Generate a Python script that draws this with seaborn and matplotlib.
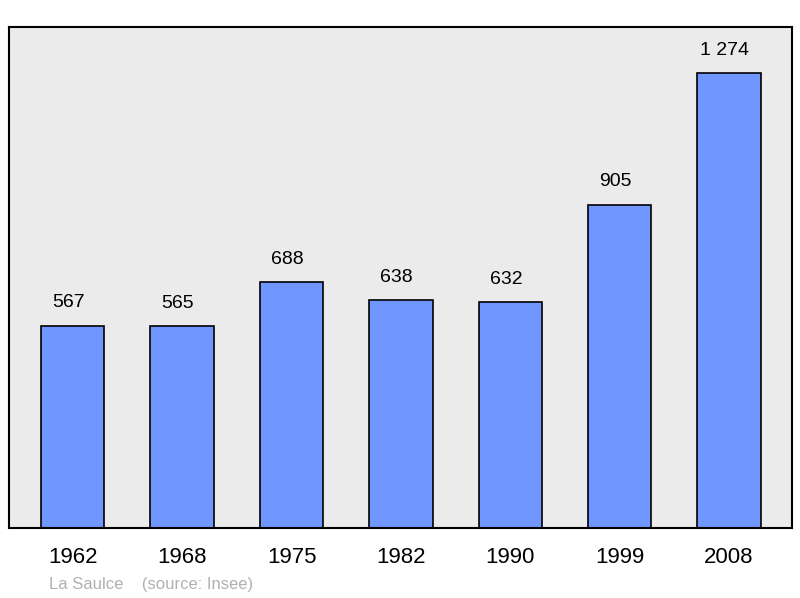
import matplotlib
matplotlib.use("Agg")
import matplotlib.pyplot as plt
import seaborn as sns
import pandas as pd

years = ["1962", "1968", "1975", "1982", "1990", "1999", "2008"]
population = [567, 565, 688, 638, 632, 905, 1274]
value_labels = ["567", "565", "688", "638", "632", "905", "1 274"]

sns.set_style("white")
plt.rcParams['font.family'] = ['Liberation Sans', 'DejaVu Sans']

df = pd.DataFrame({"year": years, "pop": population})
fig = plt.figure(figsize=(8, 5.98), dpi=100)
ax = fig.add_axes([0.011, 0.117, 0.979, 0.838])
ax.set_facecolor("#ebebeb")
sns.barplot(data=df, x="year", y="pop", color="#7096ff", saturation=1,
            width=0.58, edgecolor="black", linewidth=1.2, ax=ax)
for i, (v, t) in enumerate(zip(population, value_labels)):
    ax.text(i - 0.04, v + 40, t, ha="center", va="bottom", fontsize=14, color="black")
ax.set_xlim(-0.585, 6.576)
ax.set_ylim(0, 1403)
ax.set_yticks([])
ax.set_xlabel("")
ax.set_ylabel("")
ax.tick_params(axis="x", labelsize=16, length=0, pad=14, labelcolor="black")
for s in ax.spines.values():
    s.set_linewidth(1.5)
    s.set_color("black")
fig.text(49/800, 1 - 584/598, "La Saulce    (source: Insee)", color="#b0b0b0",
         fontsize=12, va="center")
fig.savefig("out.png", dpi=100)
